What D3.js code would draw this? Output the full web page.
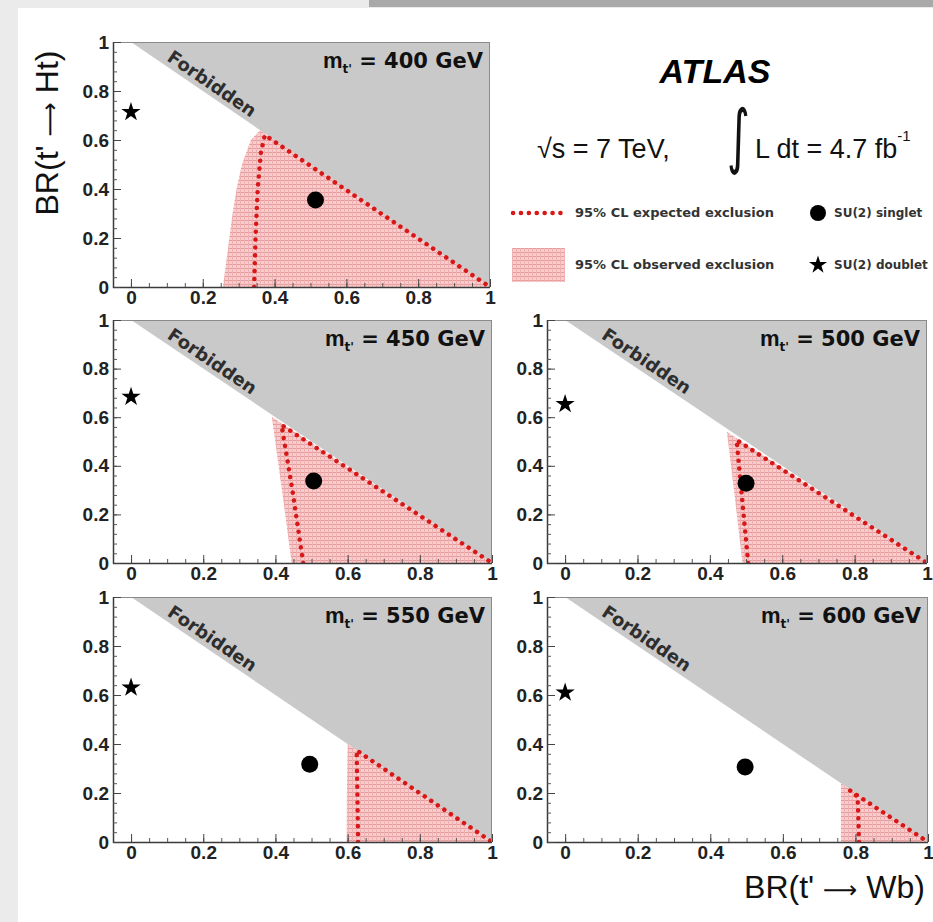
<!DOCTYPE html>
<html><head><meta charset="utf-8">
<script src="https://cdn.jsdelivr.net/npm/d3@7"></script>
<style>html,body{margin:0;padding:0;background:#fff;} svg{display:block;}</style>
</head><body><svg id="chart" width="933" height="922"></svg>
<script>
// ---------------- data ----------------
const masses = [400, 450, 500, 550, 600];
const singletWb = [0.514, 0.506, 0.500, 0.495, 0.496];
const singletHt = [0.355, 0.337, 0.328, 0.317, 0.306];
const doubletWb = [0, 0, 0, 0, 0];
const doubletHt = [0.714, 0.684, 0.654, 0.630, 0.610];
// observed 95% CL exclusion: left boundary (BR(Wb), BR(Ht)) up to the forbidden edge
const observed400 = [[0.256,0],[0.265,0.1],[0.274,0.2],[0.283,0.3],[0.294,0.4],[0.309,0.5],[0.334,0.6],[0.36,0.64]];
const observed450 = [[0.445,0],[0.418,0.3],[0.39,0.602]];
const observed500 = [[0.49,0],[0.469,0.27],[0.447,0.54]];
const observed550 = [[0.597,0],[0.598,0.2],[0.60,0.40]];
const observed600 = [[0.76,0],[0.76,0.12],[0.76,0.24]];
// expected 95% CL exclusion contour
const expected400 = [[0.343,0],[0.347,0.2],[0.353,0.4],[0.362,0.55],[0.373,0.62],[1,0]];
const expected450 = [[0.477,0],[0.447,0.3],[0.417,0.568],[1,0]];
const expected500 = [[0.506,0],[0.49,0.25],[0.474,0.506],[1,0]];
const expected550 = [[0.629,0],[0.627,0.2],[0.625,0.374],[1,0]];
const expected600 = [[0.81,0],[0.808,0.1],[0.806,0.185],[0.785,0.21],[1,0]];
const forbiddenCorners = [[0,1],[1,0],[1,1]];
const xTickValues = [0, 0.2, 0.4, 0.6, 0.8, 1];
const xTickLabels = ["0", "0.2", "0.4", "0.6", "0.8", "1"];
const yTickValues = [0, 0.2, 0.4, 0.6, 0.8, 1];
const yTickLabels = ["0", "0.2", "0.4", "0.6", "0.8", "1"];
const xMinorStep = 0.05;
const yMinorStep = 0.04;

const observedList = [observed400, observed450, observed500, observed550, observed600];
const expectedList = [expected400, expected450, expected500, expected550, expected600];

// ---------------- layout ----------------
const layout = [
  {x0:113, x1:490, top:42,  bot:287},
  {x0:113, x1:492, top:320, bot:563},
  {x0:547, x1:927, top:320, bot:563},
  {x0:113, x1:492, top:597, bot:842},
  {x0:547, x1:928, top:597, bot:842}
];
const RED = "#d81818";
const GREY = "#c9c9c9";

const svg = d3.select("#chart");
const defs = svg.append("defs");
// hatched pink pattern
const pat = defs.append("pattern").attr("id","hatch").attr("patternUnits","userSpaceOnUse")
  .attr("width",4).attr("height",4);
pat.append("rect").attr("width",4).attr("height",4).attr("fill","#f8cccc");
pat.append("rect").attr("x",0).attr("y",0).attr("width",4).attr("height",1).attr("fill","#e99a9a");
pat.append("rect").attr("x",0).attr("y",0).attr("width",1).attr("height",4).attr("fill","#eeb0b0");

// background
svg.append("rect").attr("width",933).attr("height",922).attr("fill","#ebebeb");
svg.append("rect").attr("x",369).attr("y",0).attr("width",564).attr("height",7).attr("fill","#a9a9a9");
svg.append("rect").attr("x",18).attr("y",8).attr("width",915).attr("height",914).attr("fill","#ffffff");

const minorX = d3.range(0, 1.0001, xMinorStep).map(v => +v.toFixed(3));
const minorY = d3.range(0, 1.0001, yMinorStep).map(v => +v.toFixed(3));

masses.forEach((m, i) => {
  const L = layout[i];
  const x = d3.scaleLinear().domain([-0.05, 1]).range([L.x0, L.x1]);
  const y = d3.scaleLinear().domain([0, 1]).range([L.bot, L.top]);
  const line = d3.line().x(d => x(d[0])).y(d => y(d[1]));
  const g = svg.append("g");
  const clipId = "clip" + i;
  defs.append("clipPath").attr("id", clipId).append("rect")
    .attr("x", L.x0).attr("y", L.top).attr("width", L.x1 - L.x0).attr("height", L.bot - L.top);
  const pg = g.append("g").attr("clip-path", `url(#${clipId})`);

  pg.append("path").attr("d", line(forbiddenCorners) + "Z").attr("fill", GREY);

  const obs = observedList[i];
  const obsPoly = obs.concat([[1, 0]]);
  pg.append("path").attr("d", line(obsPoly) + "Z").attr("fill", "url(#hatch)");

  pg.append("path").attr("d", line(expectedList[i])).attr("fill", "none")
    .attr("stroke", RED).attr("stroke-width", 4.5).attr("stroke-linecap", "round")
    .attr("stroke-dasharray", "0.1 7.8");

  // Forbidden label along the diagonal
  const ang = Math.atan2(y(0) - y(1), x(1) - x(0)) * 180 / Math.PI;
  g.append("text").attr("transform", `translate(${x(0.09)},${y(0.91)}) rotate(${ang})`)
    .attr("y", -5).attr("font-family", "DejaVu Sans, sans-serif").attr("font-weight", "bold")
    .attr("font-size", 18).attr("fill", "#2e2e2e").text("Forbidden");

  // frame
  g.append("line").attr("x1", L.x0).attr("x2", L.x1).attr("y1", L.top + 0.5).attr("y2", L.top + 0.5).attr("stroke", "#8a8a8a");
  g.append("line").attr("x1", L.x1 - 0.5).attr("x2", L.x1 - 0.5).attr("y1", L.top).attr("y2", L.bot).attr("stroke", "#8a8a8a");
  g.append("line").attr("x1", L.x0 + 0.5).attr("x2", L.x0 + 0.5).attr("y1", L.top).attr("y2", L.bot + 1).attr("stroke", "#3a3a3a").attr("stroke-width", 1.5);
  g.append("line").attr("x1", L.x0).attr("x2", L.x1).attr("y1", L.bot + 0.5).attr("y2", L.bot + 0.5).attr("stroke", "#3a3a3a").attr("stroke-width", 1.5);

  // minor ticks
  const xMinAx = d3.axisBottom(x).tickValues(minorX).tickSize(-4).tickSizeOuter(0).tickFormat("");
  const gxm = g.append("g").attr("transform", `translate(0,${L.bot})`).call(xMinAx);
  gxm.select(".domain").remove();
  gxm.selectAll("line").attr("stroke", "#555");
  const yMinAx = d3.axisLeft(y).tickValues(minorY).tickSize(-4).tickSizeOuter(0).tickFormat("");
  const gym = g.append("g").attr("transform", `translate(${L.x0},0)`).call(yMinAx);
  gym.select(".domain").remove();
  gym.selectAll("line").attr("stroke", "#555");

  // major ticks & labels
  const xAx = d3.axisBottom(x).tickValues(xTickValues).tickSize(-8).tickSizeOuter(0).tickPadding(3)
    .tickFormat((d, k) => xTickLabels[k]);
  const gx = g.append("g").attr("transform", `translate(0,${L.bot})`).call(xAx);
  gx.select(".domain").remove();
  gx.selectAll("line").attr("stroke", "#444");
  gx.selectAll("text").attr("font-family", "Liberation Sans, Arial, sans-serif").attr("font-weight", "bold")
    .attr("font-size", 19).attr("fill", "#222");
  const yAx = d3.axisLeft(y).tickValues(yTickValues).tickSize(-8).tickSizeOuter(0).tickPadding(4)
    .tickFormat((d, k) => yTickLabels[k]);
  const gy = g.append("g").attr("transform", `translate(${L.x0},0)`).call(yAx);
  gy.select(".domain").remove();
  gy.selectAll("line").attr("stroke", "#444");
  gy.selectAll("text").attr("font-family", "Liberation Sans, Arial, sans-serif").attr("font-weight", "bold")
    .attr("font-size", 19).attr("fill", "#222");

  // markers
  g.append("path").attr("transform", `translate(${x(doubletWb[i])},${y(doubletHt[i])})`)
    .attr("d", d3.symbol(d3.symbolStar, 115)()).attr("fill", "#000");
  g.append("circle").attr("cx", x(singletWb[i])).attr("cy", y(singletHt[i])).attr("r", 8.5).attr("fill", "#000");

  // mass label
  const t = g.append("text").attr("x", L.x1 - 7).attr("y", L.top + 26).attr("text-anchor", "end")
    .attr("font-family", "DejaVu Sans, sans-serif").attr("font-weight", "bold").attr("font-size", 21).attr("fill", "#111");
  t.append("tspan").attr("font-family", "Liberation Sans, Arial, sans-serif").attr("font-size", 22).text("m");
  t.append("tspan").attr("font-size", 12).attr("dy", 5).text("t'");
  t.append("tspan").attr("dy", -5).text(" = " + m + " GeV");
});

// axis titles
function title(sel, before, after) {
  sel.attr("font-family", "Liberation Sans, Arial, sans-serif").attr("font-size", 32).attr("fill", "#111");
  sel.append("tspan").text(before);
  sel.append("tspan").attr("font-family", "DejaVu Sans, sans-serif").attr("font-size", 24).text("\u27F6");
  sel.append("tspan").text(after);
}
title(svg.append("text").attr("transform", "translate(58,133) rotate(-90)").attr("text-anchor", "middle"),
  "BR(t' ", " Ht)");
title(svg.append("text").attr("x", 925).attr("y", 898).attr("text-anchor", "end"),
  "BR(t' ", " Wb)");

// ATLAS & energy / luminosity
svg.append("text").attr("x", 715).attr("y", 83).attr("text-anchor", "middle")
  .attr("font-family", "Liberation Sans, Arial, sans-serif").attr("font-weight", "bold").attr("font-style", "italic")
  .attr("font-size", 34).attr("fill", "#000").text("ATLAS");
svg.append("text").attr("x", 537).attr("y", 158)
  .attr("font-family", "Liberation Sans, Arial, sans-serif").attr("font-size", 27).attr("fill", "#111")
  .text("\u221As = 7 TeV,");
svg.append("text").attr("transform", "translate(727,160) scale(1,1.6)")
  .attr("font-family", "DejaVu Sans, sans-serif").attr("font-size", 44).attr("fill", "#111").text("\u222B");
const lum = svg.append("text").attr("x", 755).attr("y", 158)
  .attr("font-family", "Liberation Sans, Arial, sans-serif").attr("font-size", 27).attr("fill", "#111");
lum.append("tspan").text("L dt = 4.7 fb");
lum.append("tspan").attr("font-size", 15).attr("dy", -17).text("-1");

// legend
const lg = svg.append("g");
lg.append("line").attr("x1", 513).attr("x2", 565).attr("y1", 213).attr("y2", 213)
  .attr("stroke", RED).attr("stroke-width", 4.5).attr("stroke-linecap", "round").attr("stroke-dasharray", "0.1 7.8");
lg.append("rect").attr("x", 512).attr("y", 248).attr("width", 53).attr("height", 34).attr("fill", "url(#hatch)");
const legText = [["95% CL expected exclusion", 575, 217, 13], ["95% CL observed exclusion", 575, 269, 13],
                 ["SU(2) singlet", 834, 217, 12], ["SU(2) doublet", 834, 269, 12]];
legText.forEach(d => lg.append("text").attr("x", d[1]).attr("y", d[2])
  .attr("font-family", "DejaVu Sans, sans-serif").attr("font-weight", "bold").attr("font-size", d[3])
  .attr("fill", "#333").text(d[0]));
lg.append("circle").attr("cx", 818).attr("cy", 213).attr("r", 8).attr("fill", "#000");
lg.append("path").attr("transform", "translate(818,265)").attr("d", d3.symbol(d3.symbolStar, 100)()).attr("fill", "#000");
</script></body></html>
